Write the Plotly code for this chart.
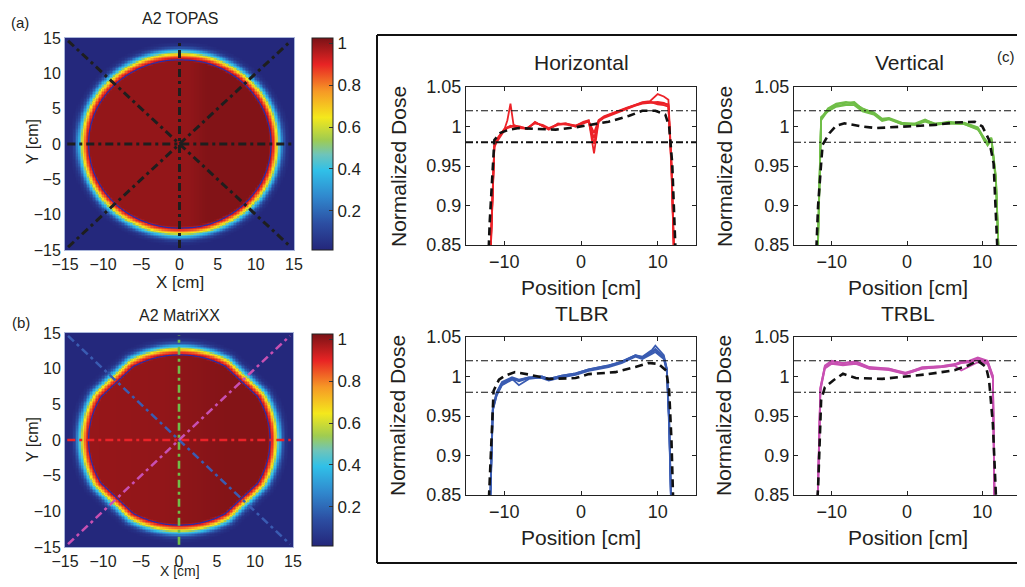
import numpy as np
import plotly.graph_objects as go

# page body has an 8px default margin: figure is sized so the page fills 1025x587 exactly
VW, VH, OFF = 1025, 587, 8
W, H = VW - 2 * OFF, VH - 2 * OFF
def px(x): return (x - OFF) / W
def py(y): return 1 - (y - OFF) / H

FONT = "Liberation Sans, Arial, sans-serif"
TXT = "#231f20"

# ---------------- dose-map data ----------------
grid_cm = np.arange(-15, 15.001, 0.2)
edge_radius_cm = [0, 11.7, 11.9, 12.1, 12.4, 12.7, 13.0, 13.3, 13.6, 14.0, 14.5, 25]
edge_factor = [1, 1, 0.97, 0.92, 0.82, 0.66, 0.46, 0.30, 0.15, 0.05, 0.02, 0.02]
topas_inner_x = [-15, 1, 3.5, 15]
topas_inner_dose = [0.995, 0.995, 1.015, 1.015]
matrixx_inner_x = [-15, -2, 6, 15]
matrixx_inner_dose = [0.99, 0.997, 1.012, 1.012]
field_radius_cm = 11.9
matrixx_diag_cut_cm = 16.3
contour_level = 0.96
dose_min, dose_max = 0.014, 1.024
cbar_ticks = [0.2, 0.4, 0.6, 0.8, 1]
cbar_ticktext = ["0.2", "0.4", "0.6", "0.8", "1"]
map_ticks = [-15, -10, -5, 0, 5, 10, 15]

# profile lines drawn on the maps
horiz_line_x = [-14.7, 14.7]; horiz_line_y = [0, 0]
vert_line_x = [0, 0];         vert_line_y = [-14.7, 14.7]
tlbr_line_x = [-14.6, 14.6];  tlbr_line_y = [14.6, -14.6]
trbl_line_x = [-14.6, 14.6];  trbl_line_y = [-14.6, 14.6]

# ---------------- profile data ----------------
tol_upper, tol_lower = 1.02, 0.98

hx = [-12.0, -11.3, -11.0, -10.5, -10.0, -9.6, -9.2, -8.8, -8.0, -7.0, -6.0, -5.0, -4.2, -3.0, -2.0, -0.7,
      0.3, 1.0, 1.7, 2.3, 3.0, 4.5, 6.0, 7.0, 8.0, 9.0, 10.0, 10.8, 11.4, 11.8, 12.3]
h1 = [0.78, 0.975, 0.982, 0.990, 0.996, 1.008, 1.029, 1.002, 0.999, 0.998, 1.005, 1.001, 0.997, 1.003, 1.004, 1.001,
      1.005, 1.007, 0.992, 1.008, 1.013, 1.019, 1.024, 1.027, 1.030, 1.031, 1.030, 1.029, 1.028, 0.950, 0.78]
h2 = [0.79, 0.977, 0.984, 0.991, 0.997, 0.999, 1.000, 1.001, 1.000, 0.997, 1.006, 1.000, 0.996, 1.004, 1.003, 1.001,
      1.006, 1.008, 0.966, 1.007, 1.012, 1.018, 1.023, 1.028, 1.031, 1.032, 1.041, 1.038, 1.034, 0.955, 0.78]
h3 = [0.78, 0.974, 0.980, 0.988, 0.995, 0.998, 0.999, 1.000, 0.999, 0.998, 1.004, 1.002, 0.998, 1.003, 1.004, 1.000,
      1.004, 1.006, 0.978, 1.006, 1.011, 1.017, 1.022, 1.026, 1.029, 1.030, 1.031, 1.030, 1.027, 0.945, 0.78]
h4 = [0.79, 0.976, 0.983, 0.989, 0.996, 0.999, 1.001, 1.000, 0.998, 0.997, 1.005, 1.001, 0.997, 1.002, 1.003, 1.000,
      1.005, 1.007, 0.985, 1.007, 1.012, 1.018, 1.023, 1.027, 1.030, 1.031, 1.028, 1.027, 1.025, 0.950, 0.78]
hdx = [-12.3, -11.9, -11.3, -10.5, -9.4, -8.1, -6.0, -3.3, -0.7, 1.0, 3.6, 6.3, 8.0, 9.7, 11.0, 11.5, 11.9, 12.3, 12.6]
hdy = [0.78, 0.88, 0.983, 0.992, 0.996, 0.998, 0.997, 0.996, 0.999, 1.002, 1.006, 1.0135, 1.020, 1.020, 1.015, 1.000,
       0.953, 0.85, 0.78]

vx = [-12.0, -11.4, -10.5, -9.4, -8.1, -7.0, -5.9, -4.4, -3.3, -2.4, -0.7, 1.1, 2.4, 3.7, 5.5, 7.6, 9.4, 10.3,
      10.7, 11.2, 11.8, 12.4]
v1 = [0.78, 1.008, 1.020, 1.026, 1.028, 1.029, 1.020, 1.016, 1.008, 1.010, 1.003, 1.002, 1.007, 1.003, 1.004, 1.003,
      0.997, 0.982, 0.976, 0.983, 0.930, 0.78]
v2 = [0.79, 1.011, 1.022, 1.028, 1.030, 1.031, 1.022, 1.018, 1.010, 1.011, 1.005, 1.003, 1.008, 1.004, 1.005, 1.005,
      0.999, 0.984, 0.978, 0.984, 0.935, 0.78]
v3 = [0.78, 1.009, 1.023, 1.029, 1.031, 1.029, 1.023, 1.017, 1.009, 1.010, 1.004, 1.004, 1.009, 1.003, 1.006, 1.004,
      0.998, 0.981, 0.979, 0.985, 0.933, 0.78]
v4 = [0.79, 1.012, 1.019, 1.025, 1.027, 1.027, 1.019, 1.015, 1.007, 1.009, 1.003, 1.002, 1.006, 1.002, 1.004, 1.003,
      0.996, 0.985, 0.980, 0.986, 0.937, 0.78]
vdx = [-12.3, -11.8, -11.4, -11.2, -10.3, -9.4, -8.3, -5.9, -4.1, -2.4, 0.2, 3.7, 6.3, 9.0, 10.0, 10.9, 11.5, 12.0, 12.3]
vdy = [0.78, 0.90, 0.953, 0.977, 0.9915, 1.001, 1.004, 1.000, 0.998, 0.999, 1.000, 1.002, 1.005, 1.006, 1.000, 0.983,
       0.953, 0.85, 0.78]

tx = [-12.0, -11.5, -11.0, -10.3, -9.0, -8.1, -6.8, -5.1, -4.2, -2.5, -0.7, 1.0, 3.6, 5.3, 7.1, 8.0, 9.3, 9.7,
      10.8, 11.2, 11.5, 11.9]
t1 = [0.78, 0.958, 0.977, 0.990, 0.997, 0.989, 0.997, 0.999, 0.996, 1.000, 1.003, 1.008, 1.013, 1.019, 1.027, 1.025,
      1.034, 1.039, 1.027, 1.010, 0.940, 0.78]
t2 = [0.79, 0.960, 0.979, 0.992, 0.998, 0.994, 0.998, 1.000, 0.997, 1.001, 1.004, 1.009, 1.014, 1.018, 1.026, 1.023,
      1.031, 1.033, 1.024, 1.008, 0.945, 0.78]
t3 = [0.78, 0.957, 0.976, 0.989, 0.996, 0.995, 0.999, 0.998, 0.995, 0.999, 1.002, 1.007, 1.012, 1.017, 1.025, 1.022,
      1.029, 1.031, 1.022, 1.006, 0.935, 0.78]
t4 = [0.79, 0.961, 0.980, 0.993, 0.999, 0.996, 0.999, 1.000, 0.997, 1.001, 1.004, 1.009, 1.014, 1.019, 1.027, 1.024,
      1.032, 1.035, 1.025, 1.009, 0.942, 0.78]
tdx = [-12.3, -11.8, -11.4, -10.7, -9.9, -8.6, -6.8, -4.2, -0.7, 1.0, 4.5, 7.1, 8.8, 10.1, 11.1, 11.5, 11.8, 12.0, 12.3]
tdy = [0.78, 0.90, 0.982, 0.996, 1.001, 1.0055, 1.0025, 0.997, 0.998, 1.003, 1.0055, 1.012, 1.017, 1.016, 1.0076,
       0.982, 0.919, 0.85, 0.78]

mx = [-12.0, -11.5, -10.9, -10.0, -8.5, -6.8, -5.0, -2.4, -0.2, 2.0, 4.6, 6.3, 7.2, 8.3, 9.4, 10.7, 11.4, 11.7]
m1 = [0.78, 0.983, 1.011, 1.017, 1.015, 1.017, 1.010, 1.009, 1.003, 1.010, 1.012, 1.014, 1.0076, 1.013, 1.018, 1.016,
      0.998, 0.78]
m2 = [0.79, 0.986, 1.013, 1.019, 1.017, 1.019, 1.012, 1.010, 1.005, 1.011, 1.013, 1.016, 1.018, 1.019, 1.023, 1.019,
      1.000, 0.78]
m3 = [0.78, 0.982, 1.010, 1.016, 1.014, 1.016, 1.010, 1.008, 1.003, 1.010, 1.012, 1.014, 1.017, 1.018, 1.021, 1.017,
      0.997, 0.78]
m4 = [0.79, 0.985, 1.014, 1.020, 1.017, 1.019, 1.011, 1.010, 1.004, 1.012, 1.013, 1.015, 1.019, 1.020, 1.024, 1.020,
      1.001, 0.78]
mdx = [-12.3, -11.8, -11.4, -10.9, -9.8, -8.5, -6.8, -3.3, -0.2, 2.8, 6.3, 8.1, 9.4, 10.5, 10.9, 11.4, 11.8, 12.1]
mdy = [0.78, 0.86, 0.970, 0.9865, 0.995, 1.0034, 0.998, 0.997, 1.000, 1.003, 1.008, 1.014, 1.020, 1.012, 0.995, 0.940,
       0.85, 0.78]

# ---------------- styles ----------------
jet_muted = [
    [0.0, "rgb(36,38,122)"], [0.125, "rgb(44,78,162)"], [0.25, "rgb(48,135,205)"],
    [0.375, "rgb(48,192,232)"], [0.45, "rgb(110,196,186)"], [0.52, "rgb(160,204,80)"],
    [0.625, "rgb(244,232,28)"], [0.75, "rgb(246,152,38)"], [0.875, "rgb(232,36,36)"],
    [1.0, "rgb(122,18,22)"],
]
red_c, green_c, blue_c, mag_c = "rgb(236,34,40)", "rgb(112,190,72)", "rgb(58,92,178)", "rgb(200,80,178)"
dashdot_map = "8px,4px,3px,4px"

fig = go.Figure()

# ---------------- dose maps ----------------
X, Y = np.meshgrid(grid_cm, grid_cm)
R = np.hypot(X, Y)
z_topas = np.interp(X, topas_inner_x, topas_inner_dose) * np.interp(R, edge_radius_cm, edge_factor)
R_mx = np.maximum(R, (np.abs(X) + np.abs(Y)) * field_radius_cm / matrixx_diag_cut_cm)
z_mx = np.interp(X, matrixx_inner_x, matrixx_inner_dose) * np.interp(R_mx, edge_radius_cm, edge_factor)

def cbar(ycenter):
    return dict(x=px(312), xanchor="left", xpad=0, ypad=0, y=py(ycenter), yanchor="middle",
                len=212 / H, lenmode="fraction", thickness=21, thicknessmode="pixels",
                outlinecolor="#222", outlinewidth=1, tickvals=cbar_ticks, ticktext=cbar_ticktext,
                ticks="inside", ticklen=4, tickcolor="#333",
                tickfont=dict(family=FONT, size=17, color=TXT))

for z, xa, ya, yc in [(z_topas, "x", "y", 144), (z_mx, "x2", "y2", 440)]:
    fig.add_trace(go.Heatmap(x=grid_cm, y=grid_cm, z=z, zmin=dose_min, zmax=dose_max,
                             colorscale=jet_muted, colorbar=cbar(yc), xaxis=xa, yaxis=ya,
                             hoverinfo="skip"))
    fig.add_trace(go.Contour(x=grid_cm, y=grid_cm, z=z, xaxis=xa, yaxis=ya, showscale=False,
                             contours=dict(start=contour_level, end=contour_level, size=0.1, coloring="none"),
                             line=dict(color="rgb(40,44,170)", width=1.2), hoverinfo="skip"))

# profile lines on maps
map_lines = [(horiz_line_x, horiz_line_y, red_c), (vert_line_x, vert_line_y, green_c),
             (tlbr_line_x, tlbr_line_y, blue_c), (trbl_line_x, trbl_line_y, mag_c)]
for lx, ly, c in map_lines:
    fig.add_trace(go.Scatter(x=lx, y=ly, mode="lines", xaxis="x", yaxis="y",
                             line=dict(color="rgb(30,30,30)", width=3, dash=dashdot_map), hoverinfo="skip"))
    fig.add_trace(go.Scatter(x=lx, y=ly, mode="lines", xaxis="x2", yaxis="y2",
                             line=dict(color=c, width=2.6, dash=dashdot_map), hoverinfo="skip"))

# ---------------- profiles ----------------
panels = [
    ("x3", "y3", hx, [h1, h2, h3, h4], hdx, hdy, red_c),
    ("x4", "y4", vx, [v1, v2, v3, v4], vdx, vdy, green_c),
    ("x5", "y5", tx, [t1, t2, t3, t4], tdx, tdy, blue_c),
    ("x6", "y6", mx, [m1, m2, m3, m4], mdx, mdy, mag_c),
]
shapes = []
for xa, ya, px_, series, dx, dy, c in panels:
    for s in series:
        fig.add_trace(go.Scatter(x=px_, y=s, mode="lines", xaxis=xa, yaxis=ya,
                                 line=dict(color=c, width=1.8), hoverinfo="skip"))
    fig.add_trace(go.Scatter(x=dx, y=dy, mode="lines", xaxis=xa, yaxis=ya,
                             line=dict(color="#111", width=2.6, dash="8px,5px"), hoverinfo="skip"))
    for lvl in (tol_upper, tol_lower):
        w = 2.0 if (xa == "x3" and lvl == tol_lower) else 1.1
        shapes.append(dict(type="line", xref=f"{xa} domain", yref=ya, x0=0, x1=1, y0=lvl, y1=lvl,
                           line=dict(color="#111", width=w, dash="7px,3px,2px,3px"), layer="above"))

# panel (c) frame
for (x0, y0, x1, y1) in [(377, 35, 377, 563), (377, 35, 1030, 35), (377, 563, 1030, 563)]:
    shapes.append(dict(type="line", xref="paper", yref="paper", x0=px(x0), x1=px(x1), y0=py(y0), y1=py(y1),
                       line=dict(color="#111", width=2)))

# ---------------- axes ----------------
PAGE_RIGHT = OFF + W  # last visible pixel column of the figure

def map_axes(dom_x, dom_y):
    common = dict(range=[-15, 15], tickvals=map_ticks, ticks="", showgrid=False, zeroline=False,
                  showline=True, linecolor="#a9b5d9", linewidth=1, mirror=True, automargin=False,
                  tickfont=dict(family=FONT, size=16, color=TXT))
    return dict(domain=[px(dom_x[0]), px(dom_x[1])], **common), dict(domain=[py(dom_y[1]), py(dom_y[0])], **common)

def prof_axes(dom_x, dom_y):
    # if the plot box runs past the figure, clip the box and keep the same cm-per-pixel scale
    right = min(dom_x[1], PAGE_RIGHT)
    scale = 30.0 / (dom_x[1] - dom_x[0])
    x_hi = -15 + (right - dom_x[0]) * scale
    xa = dict(domain=[px(dom_x[0]), px(right)], range=[-15, x_hi], tickvals=[-10, 0, 10],
              ticks="inside", ticklen=4, tickcolor="#222", showgrid=False, zeroline=False,
              showline=True, linecolor="#222", linewidth=1, mirror="ticks", automargin=False,
              tickfont=dict(family=FONT, size=18, color=TXT))
    ya = dict(domain=[py(dom_y[1]), py(dom_y[0])], range=[0.85, 1.05], tickvals=[0.85, 0.9, 0.95, 1, 1.05],
              ticktext=["0.85", "0.9", "0.95", "1", "1.05"],
              ticks="inside", ticklen=4, tickcolor="#222", showgrid=False, zeroline=False,
              showline=True, linecolor="#222", linewidth=1, mirror="ticks", automargin=False,
              tickfont=dict(family=FONT, size=18, color=TXT))
    return xa, ya

ax = {}
ax["xaxis"], ax["yaxis"] = map_axes((65, 294), (38, 250))
ax["xaxis2"], ax["yaxis2"] = map_axes((65, 293), (333, 547))
ax["xaxis3"], ax["yaxis3"] = prof_axes((466, 696), (87, 245))
ax["xaxis4"], ax["yaxis4"] = prof_axes((794, 1020), (87, 245))
ax["xaxis5"], ax["yaxis5"] = prof_axes((466, 696), (337, 495))
ax["xaxis6"], ax["yaxis6"] = prof_axes((794, 1020), (337, 495))
for i in range(2, 7):
    ax[f"xaxis{i}"]["anchor"] = f"y{i}"
    ax[f"yaxis{i}"]["anchor"] = f"x{i}"

# ---------------- text ----------------
texts = [
    ("(a)", 20, 22, 15, 0), ("(b)", 21, 322, 15, 0), ("(c)", 1006, 56, 15, 0),
    ("A2 TOPAS", 180, 18, 16, 0), ("A2 MatriXX", 179, 315, 16, 0),
    ("Y [cm]", 32, 142, 16, -90), ("Y [cm]", 32, 440, 16, -90),
    ("X [cm]", 180, 283, 17, 0), ("X [cm]", 180, 571, 14, 0),
    ("Horizontal", 581, 63, 21, 0), ("Vertical", 909, 63, 21, 0),
    ("TLBR", 582, 313, 21, 0), ("TRBL", 908, 313, 21, 0),
    ("Normalized Dose", 398, 167, 21, -90), ("Normalized Dose", 724, 167, 21, -90),
    ("Normalized Dose", 398, 416, 21, -90), ("Normalized Dose", 724, 416, 21, -90),
    ("Position [cm]", 581, 287, 21, 0), ("Position [cm]", 908, 287, 21, 0),
    ("Position [cm]", 581, 537, 21, 0), ("Position [cm]", 908, 537, 21, 0),
]
annotations = [dict(text=t, x=px(x), y=py(y), xref="paper", yref="paper", showarrow=False,
                    xanchor="center", yanchor="middle", textangle=a,
                    font=dict(family=FONT, size=s, color=TXT)) for t, x, y, s, a in texts]

fig.update_layout(template="none", width=W, height=H,
                  margin=dict(l=0, r=0, t=0, b=0, pad=0, autoexpand=False),
                  paper_bgcolor="white", plot_bgcolor="white", showlegend=False,
                  shapes=shapes, annotations=annotations, **ax)

fig.write_html("out.html")
